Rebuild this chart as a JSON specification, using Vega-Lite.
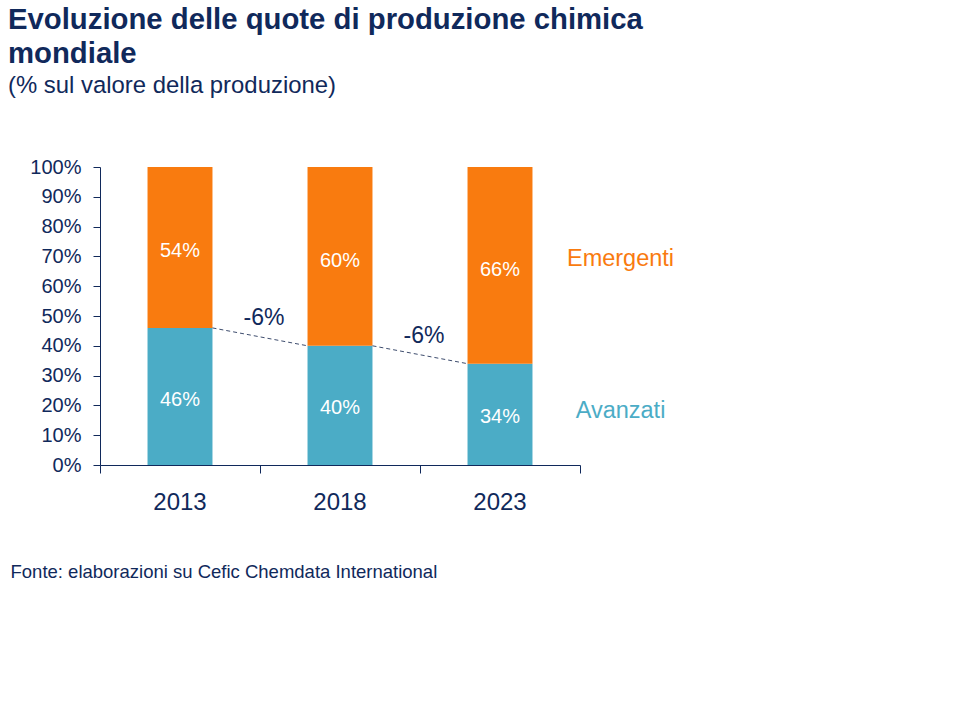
{
  "$schema": "https://vega.github.io/schema/vega-lite/v6.json",
  "width": 480,
  "height": 298,
  "autosize": {"type": "none"},
  "padding": {"left": 100, "top": 167, "right": 380, "bottom": 255},
  "background": "white",
  "title": {
    "text": ["Evoluzione delle quote di produzione chimica", "mondiale"],
    "subtitle": "(% sul valore della produzione)",
    "anchor": "start",
    "frame": "group",
    "dx": -92,
    "offset": 59,
    "font": "Liberation Sans",
    "fontSize": 29.3,
    "fontWeight": "bold",
    "color": "#10295B",
    "lineHeight": 33.5,
    "subtitleFont": "Liberation Sans",
    "subtitleFontSize": 23.9,
    "subtitleColor": "#10295B",
    "subtitlePadding": 5
  },
  "datasets": {
    "shares": [
      {"year": "2013", "series": "Avanzati", "value": 0.46},
      {"year": "2013", "series": "Emergenti", "value": 0.54},
      {"year": "2018", "series": "Avanzati", "value": 0.40},
      {"year": "2018", "series": "Emergenti", "value": 0.60},
      {"year": "2023", "series": "Avanzati", "value": 0.34},
      {"year": "2023", "series": "Emergenti", "value": 0.66}
    ],
    "changes": [
      {"from": "2013", "to": "2018", "start": 0.46, "end": 0.40, "change": "-6%"},
      {"from": "2018", "to": "2023", "start": 0.40, "end": 0.34, "change": "-6%"}
    ]
  },
  "layer": [
    {
      "data": {"name": "shares"},
      "mark": {"type": "bar", "width": {"band": 0.406}},
      "encoding": {
        "x": {"field": "year", "type": "nominal", "title": "Fonte: elaborazioni su Cefic Chemdata International",
              "scale": {"domain": ["2013", "2018", "2023"], "paddingInner": 0, "paddingOuter": 0}},
        "y": {"field": "value", "type": "quantitative", "stack": "zero", "title": null,
              "scale": {"domain": [0, 1]},
              "axis": {"values": [0, 0.1, 0.2, 0.3, 0.4, 0.5, 0.6, 0.7, 0.8, 0.9, 1], "format": ".0%", "labelOverlap": false}},
        "color": {"field": "series", "type": "nominal", "legend": null,
                  "scale": {"domain": ["Avanzati", "Emergenti"], "range": ["#4BACC6", "#F97B0F"]}},
        "order": {"field": "series", "sort": "ascending"}
      }
    },
    {
      "data": {"name": "shares"},
      "mark": {"type": "text", "color": "white", "fontSize": 20, "font": "Liberation Sans", "baseline": "middle", "align": "center"},
      "encoding": {
        "x": {"field": "year", "type": "nominal", "title": "Fonte: elaborazioni su Cefic Chemdata International"},
        "y": {"field": "value", "type": "quantitative", "stack": "zero", "bandPosition": 0.476, "title": null,
              "axis": {"values": [0, 0.1, 0.2, 0.3, 0.4, 0.5, 0.6, 0.7, 0.8, 0.9, 1], "format": ".0%", "labelOverlap": false}},
        "detail": {"field": "series", "type": "nominal"},
        "order": {"field": "series", "sort": "ascending"},
        "text": {"field": "value", "type": "quantitative", "format": ".0%"}
      }
    },
    {
      "data": {"name": "shares"},
      "transform": [{"filter": {"field": "year", "equal": "2023"}}],
      "mark": {"type": "text", "fontSize": 23.5, "font": "Liberation Sans", "baseline": "middle", "align": "center", "dx": 120.5},
      "encoding": {
        "x": {"field": "year", "type": "nominal", "title": "Fonte: elaborazioni su Cefic Chemdata International"},
        "y": {"field": "value", "type": "quantitative", "stack": "zero", "bandPosition": 0.53, "title": null,
              "axis": {"values": [0, 0.1, 0.2, 0.3, 0.4, 0.5, 0.6, 0.7, 0.8, 0.9, 1], "format": ".0%", "labelOverlap": false}},
        "color": {"field": "series", "type": "nominal", "legend": null},
        "order": {"field": "series", "sort": "ascending"},
        "text": {"field": "series", "type": "nominal"}
      }
    },
    {
      "data": {"name": "changes"},
      "mark": {"type": "rule", "color": "#3E4D6E", "strokeWidth": 1, "strokeDash": [4, 3]},
      "encoding": {
        "x": {"field": "from", "type": "nominal", "bandPosition": 0.703, "title": "Fonte: elaborazioni su Cefic Chemdata International"},
        "x2": {"field": "to", "bandPosition": 0.297},
        "y": {"field": "start", "type": "quantitative", "title": null,
              "axis": {"values": [0, 0.1, 0.2, 0.3, 0.4, 0.5, 0.6, 0.7, 0.8, 0.9, 1], "format": ".0%", "labelOverlap": false}},
        "y2": {"field": "end"}
      }
    },
    {
      "data": {"name": "changes"},
      "mark": {"type": "text", "color": "#10295B", "fontSize": 23, "font": "Liberation Sans", "baseline": "middle", "align": "center", "dx": 4, "dy": -10},
      "encoding": {
        "x": {"field": "from", "type": "nominal", "bandPosition": 1, "title": "Fonte: elaborazioni su Cefic Chemdata International"},
        "y": {"field": "start", "type": "quantitative", "title": null,
              "axis": {"values": [0, 0.1, 0.2, 0.3, 0.4, 0.5, 0.6, 0.7, 0.8, 0.9, 1], "format": ".0%", "labelOverlap": false}},
        "text": {"field": "change", "type": "nominal"}
      }
    }
  ],
  "config": {
    "view": {"stroke": null},
    "font": "Liberation Sans",
    "axis": {
      "labelFont": "Liberation Sans",
      "labelColor": "#10295B",
      "domainColor": "#10295B",
      "tickColor": "#10295B",
      "domainWidth": 1,
      "tickWidth": 1,
      "grid": false,
      "titleFont": "Liberation Sans",
      "titleColor": "#10295B"
    },
    "axisX": {
      "bandPosition": 1,
      "tickExtra": true,
      "tickSize": 8,
      "labelFontSize": 24,
      "labelPadding": 17,
      "labelAngle": 0,
      "titleFontSize": 18.5,
      "titleFontWeight": "normal",
      "titleX": -90,
      "titleY": 112,
      "titleAlign": "left",
      "titleAnchor": "start",
      "titleBaseline": "alphabetic"
    },
    "axisY": {
      "tickSize": 7,
      "labelFontSize": 20,
      "labelPadding": 12
    }
  }
}
